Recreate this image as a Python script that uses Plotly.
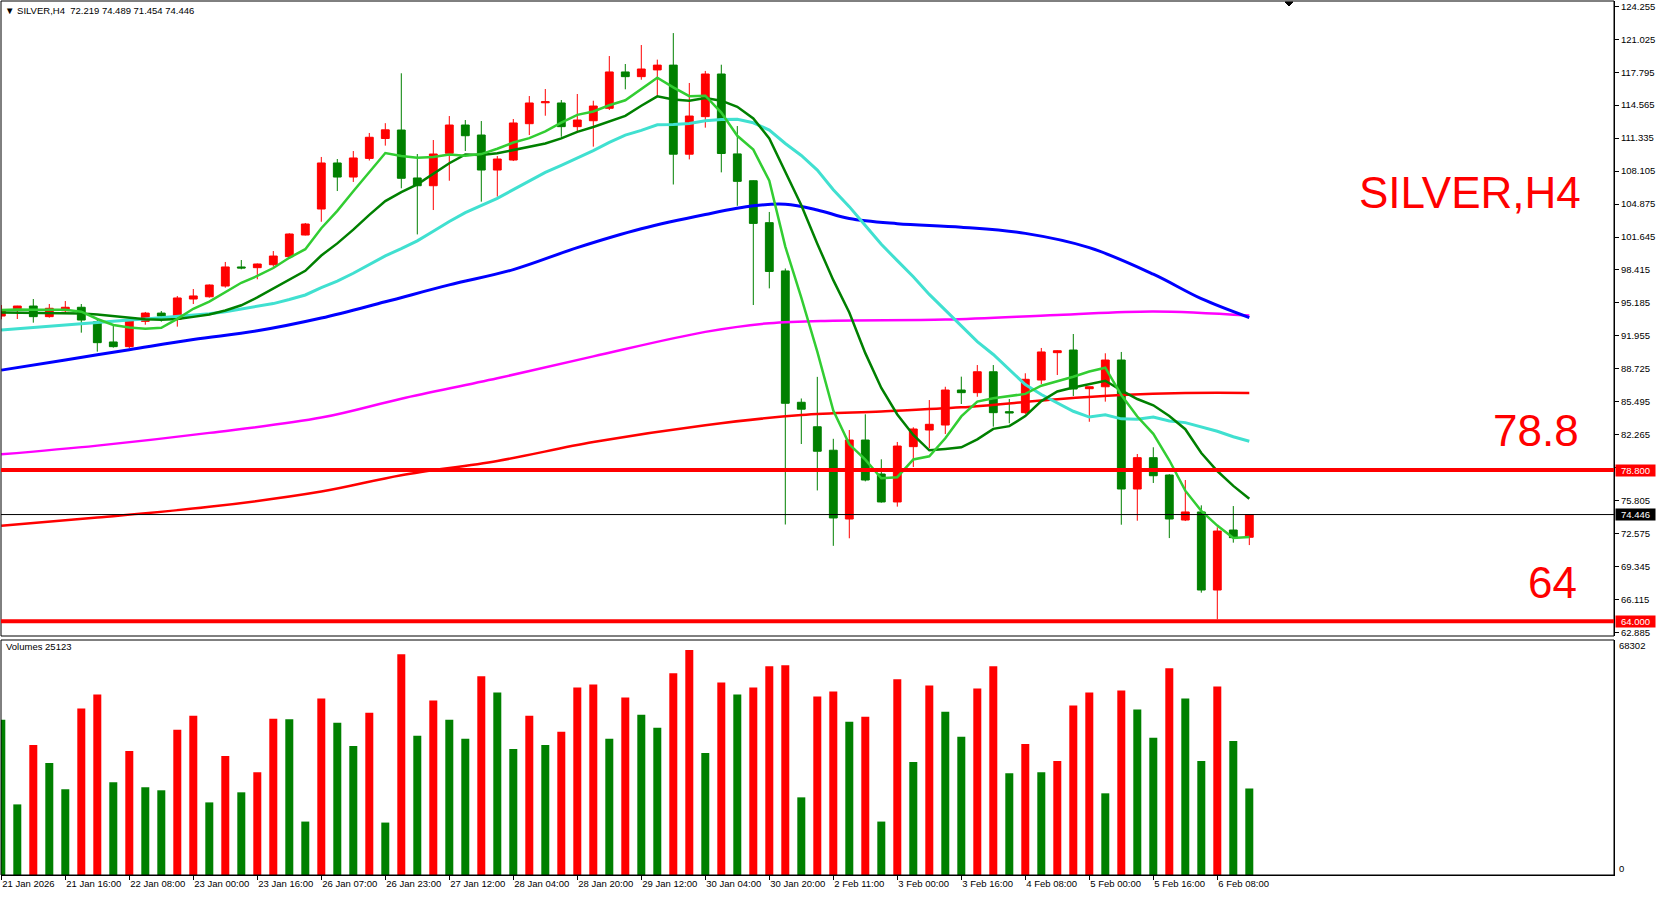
import plotly.graph_objects as go
import pandas as pd

# ---------------- data ----------------
opens = [93.90, 94.62, 94.88, 93.84, 94.42, 94.76, 93.35, 91.36, 90.90, 93.38,
         94.19, 93.58, 95.57, 95.79, 96.84, 98.71, 98.64, 98.93, 99.72, 101.84,
         104.39, 108.90, 107.52, 109.35, 111.30, 112.13, 107.43, 106.67, 109.85, 112.62,
         111.64, 108.21, 109.19, 112.75, 114.80, 114.78, 112.46, 113.04, 114.26, 117.82,
         117.36, 118.02, 118.49, 109.76, 113.44, 117.62, 109.79, 107.16, 103.05, 98.32,
         85.45, 83.05, 80.75, 74.01, 81.75, 78.42, 75.68, 81.10, 82.73, 83.22,
         86.65, 86.39, 88.44, 84.53, 84.43, 87.63, 90.31, 90.57, 86.78, 86.97,
         89.59, 76.95, 80.02, 78.32, 73.91, 74.70, 67.05, 72.93, 72.219]
highs = [94.98, 94.90, 95.57, 95.08, 95.37, 95.08, 93.58, 93.02, 93.58, 94.30,
         94.39, 95.86, 96.55, 97.00, 99.20, 99.39, 99.05, 100.27, 102.01, 103.02,
         109.49, 109.29, 110.07, 111.84, 112.80, 117.69, 109.78, 111.15, 113.50, 113.11,
         113.01, 109.58, 113.21, 115.46, 116.15, 115.07, 115.66, 115.00, 119.38, 118.60,
         120.46, 119.03, 121.63, 116.74, 117.92, 118.53, 112.52, 107.20, 104.10, 98.56,
         85.82, 87.94, 81.87, 82.73, 84.27, 79.86, 81.56, 83.00, 85.67, 86.97,
         87.96, 89.10, 89.10, 85.77, 88.29, 90.77, 90.55, 92.14, 86.97, 90.25,
         90.38, 80.38, 81.04, 78.40, 77.83, 75.35, 73.20, 75.28, 74.489]
lows = [93.58, 93.61, 93.25, 93.74, 94.17, 92.27, 90.41, 90.80, 90.74, 93.05,
        93.35, 92.86, 95.08, 95.70, 96.68, 98.48, 97.50, 98.74, 99.65, 101.80,
        103.14, 106.15, 107.04, 109.14, 110.60, 106.42, 101.90, 104.29, 107.16, 110.07,
        105.11, 105.60, 109.09, 111.64, 113.53, 111.47, 111.97, 110.50, 114.09, 116.12,
        117.06, 115.49, 106.79, 109.25, 112.36, 107.98, 104.70, 94.98, 96.61, 73.47,
        81.36, 76.81, 71.38, 72.12, 77.70, 75.61, 75.22, 79.10, 80.94, 82.34,
        85.28, 85.99, 83.06, 83.39, 84.30, 87.24, 88.12, 86.06, 83.54, 85.51,
        73.45, 73.84, 77.54, 72.14, 73.81, 66.79, 64.18, 71.69, 71.454]
closes = [94.49, 94.88, 93.84, 94.66, 94.76, 93.51, 91.29, 90.90, 93.44, 94.19,
          93.90, 95.67, 95.87, 96.94, 98.71, 98.61, 99.00, 99.78, 101.94, 102.92,
          108.90, 107.52, 109.39, 111.42, 112.15, 107.40, 106.67, 109.78, 112.62, 111.57,
          108.21, 109.29, 112.82, 114.78, 114.90, 112.46, 113.11, 114.48, 117.82, 117.36,
          118.11, 118.49, 109.76, 113.50, 117.62, 109.83, 107.10, 102.98, 98.27, 85.35,
          84.77, 80.65, 74.11, 81.75, 77.83, 75.68, 81.16, 82.83, 83.29, 86.65,
          86.39, 88.44, 84.43, 84.40, 87.70, 90.38, 90.50, 86.75, 86.97, 89.59,
          76.95, 80.02, 78.25, 74.01, 74.70, 67.05, 72.83, 72.18, 74.446]
volumes = [45140, 20520, 37810, 32530, 24910, 48360, 52460, 26970, 36050, 25500,
           24620, 42210, 46310, 21100, 34590, 24030, 29900, 45430, 45300, 15530,
           51290, 44260, 37520, 47190, 15240, 64190, 40450, 50710, 45140, 39570,
           57740, 53050, 36640, 46310, 37810, 41620, 54520, 55400, 39570, 51590,
           46600, 42790, 58620, 65360, 35470, 55980, 52460, 54520, 60670, 60960,
           22570, 51880, 53340, 44550, 46020, 15530, 56860, 32830, 55100, 47480,
           40150, 54220, 60670, 29600, 38100, 29900, 33120, 49240, 53050, 23740,
           53640, 48070, 39860, 60090, 51290, 33120, 54810, 38980, 25123]

tick_bars = [0, 4, 8, 12, 16, 20, 24, 28, 32, 36, 40, 44, 48, 52, 56, 60, 64, 68, 72, 76]
tick_labels = ["21 Jan 2026", "21 Jan 16:00", "22 Jan 08:00", "23 Jan 00:00", "23 Jan 16:00",
               "26 Jan 07:00", "26 Jan 23:00", "27 Jan 12:00", "28 Jan 04:00", "28 Jan 20:00",
               "29 Jan 12:00", "30 Jan 04:00", "30 Jan 20:00", "2 Feb 11:00", "3 Feb 00:00",
               "3 Feb 16:00", "4 Feb 08:00", "5 Feb 00:00", "5 Feb 16:00", "6 Feb 08:00"]
price_ticks = [124.255, 121.025, 117.795, 114.565, 111.335, 108.105, 104.875, 101.645,
               98.415, 95.185, 91.955, 88.725, 85.495, 82.265, 79.035, 75.805, 72.575,
               69.345, 66.115, 62.885]

# moving-average values before the window fills
sma5_head = [94.50, 94.55, 94.52, 94.50]
sma10_head = [94.25, 94.24, 94.22, 94.20, 94.18, 94.15, 94.04, 93.90, 93.76]
sma20_head = [92.53, 92.66, 92.78, 92.88, 93.00, 93.13, 93.25, 93.38, 93.50, 93.61,
              93.72, 93.84, 93.97, 94.12, 94.33, 94.57, 94.83, 95.12, 95.52]

# slow moving averages read at sample bars
ma50_bars = [0, 4, 8, 12, 16, 20, 24, 28, 32, 36, 40, 44, 47, 49, 51, 53, 56, 60, 64, 68, 72, 75, 78]
ma50_vals = [88.6, 89.6, 90.6, 91.6, 92.45, 93.7, 95.3, 96.95, 98.45, 100.6, 102.45, 103.85,
             104.7, 104.85, 104.3, 103.45, 102.95, 102.6, 102.0, 100.6, 98.0, 95.6, 93.75]
ma100_bars = [0, 6, 13, 20, 25, 31, 37, 44, 48, 52, 59, 66, 72, 78]
ma100_vals = [80.35, 81.2, 82.45, 83.95, 85.8, 87.8, 89.95, 92.35, 93.2, 93.45, 93.55, 94.0, 94.35, 93.95]
ma200_bars = [0, 6, 13, 20, 25, 31, 37, 44, 50, 55, 60, 66, 70, 74, 78]
ma200_vals = [73.35, 74.15, 75.2, 76.7, 78.3, 79.7, 81.55, 83.2, 84.2, 84.55, 84.95, 85.75, 86.15, 86.35, 86.36]

level_hi = 78.8
level_lo = 64.0
bid = closes[-1]
vol_max = 68302

# ---------------- derived ----------------
bars = list(range(len(closes)))


def sma(period, head):
    s = pd.Series(closes).rolling(period).mean().tolist()
    s[:period - 1] = head
    return s


sma5 = sma(5, sma5_head)
sma10 = sma(10, sma10_head)
sma20 = sma(20, sma20_head)

RED = "#FF0000"
GREEN = "#008000"
vol_colors = [GREEN] + [RED if volumes[i] > volumes[i - 1] else GREEN for i in range(1, len(volumes))]

# ---------------- layout geometry (pixels) ----------------
W, H = 1656, 898
ML, MR, MT, MB = 1, 42, 1, 23
PW = W - ML - MR
PH = H - MT - MB


def fx(px):
    return (px - ML) / PW


def fy(py):
    return (MT + PH - py) / PH


main_dom = [fy(636), 1.0]
vol_dom = [0.0, fy(640)]
y_top = 124.872 - 0.098 * 1
y_bot = 124.872 - 0.098 * 636
x0 = -0.019
x1 = x0 + PW / 16.0

FONT = "Liberation Sans, Arial, DejaVu Sans, sans-serif"

fig = go.Figure()

fig.add_trace(go.Candlestick(
    x=bars, open=opens, high=highs, low=lows, close=closes,
    increasing=dict(line=dict(color=RED, width=1), fillcolor=RED),
    decreasing=dict(line=dict(color=GREEN, width=1), fillcolor=GREEN),
    whiskerwidth=0, xaxis="x", yaxis="y", showlegend=False, hoverinfo="skip"))

fig.add_trace(go.Scatter(x=ma200_bars, y=ma200_vals, mode="lines", line_shape="spline",
                         line=dict(color=RED, width=2.5), xaxis="x", yaxis="y", showlegend=False))
fig.add_trace(go.Scatter(x=ma100_bars, y=ma100_vals, mode="lines", line_shape="spline",
                         line=dict(color="#FF00FF", width=2.5), xaxis="x", yaxis="y", showlegend=False))
fig.add_trace(go.Scatter(x=ma50_bars, y=ma50_vals, mode="lines", line_shape="spline",
                         line=dict(color="#0000FF", width=3), xaxis="x", yaxis="y", showlegend=False))
fig.add_trace(go.Scatter(x=bars, y=sma20, mode="lines",
                         line=dict(color="#40E0D0", width=3), xaxis="x", yaxis="y", showlegend=False))
fig.add_trace(go.Scatter(x=bars, y=sma10, mode="lines",
                         line=dict(color=GREEN, width=2.5), xaxis="x", yaxis="y", showlegend=False))
fig.add_trace(go.Scatter(x=bars, y=sma5, mode="lines",
                         line=dict(color="#32CD32", width=2.5), xaxis="x", yaxis="y", showlegend=False))

fig.add_trace(go.Bar(x=bars, y=volumes, marker=dict(color=vol_colors, line=dict(width=0)),
                     width=0.5, xaxis="x2", yaxis="y2", showlegend=False, hoverinfo="skip"))

axis_common = dict(showgrid=False, zeroline=False)
fig.update_layout(
    width=W, height=H,
    margin=dict(l=ML, r=MR, t=MT, b=MB),
    paper_bgcolor="white", plot_bgcolor="white",
    showlegend=False, hovermode=False,
    font=dict(family=FONT, size=9.5, color="black"),
    xaxis=dict(domain=[0, 1], range=[x0, x1], anchor="y", showticklabels=False,
               rangeslider=dict(visible=False), ticks="", showline=False, **axis_common),
    xaxis2=dict(domain=[0, 1], range=[x0, x1], anchor="y2", matches="x",
                tickmode="array", tickvals=tick_bars, ticktext=tick_labels,
                ticks="outside", ticklen=4, tickcolor="black", ticklabelposition="outside right",
                tickfont=dict(family=FONT, size=9.5, color="black"),
                showline=True, linecolor="black", linewidth=1, **axis_common),
    yaxis=dict(domain=main_dom, range=[y_bot, y_top], side="right", anchor="x",
               tickmode="array", tickvals=price_ticks, ticktext=[f"{v:.3f}" for v in price_ticks],
               ticks="outside", ticklen=4, tickcolor="black",
               tickfont=dict(family=FONT, size=9.5, color="black"),
               showline=True, linecolor="black", linewidth=1, **axis_common),
    yaxis2=dict(domain=vol_dom, range=[0, vol_max], side="right", anchor="x2",
                showticklabels=False, ticks="", showline=True, linecolor="black", linewidth=1,
                **axis_common),
    boxgap=0.3,
)

shapes = [
    dict(type="rect", xref="paper", yref="paper", x0=0, x1=1, y0=main_dom[0], y1=1,
         line=dict(color="black", width=1), layer="above"),
    dict(type="rect", xref="paper", yref="paper", x0=0, x1=1, y0=0, y1=vol_dom[1],
         line=dict(color="black", width=1), layer="above"),
    dict(type="line", xref="paper", yref="y", x0=0, x1=1, y0=bid, y1=bid,
         line=dict(color="black", width=1)),
    dict(type="line", xref="paper", yref="y", x0=0, x1=1, y0=level_hi, y1=level_hi,
         line=dict(color=RED, width=4)),
    dict(type="line", xref="paper", yref="y", x0=0, x1=1, y0=level_lo, y1=level_lo,
         line=dict(color=RED, width=4)),
    # chart-shift marker at the top edge
    dict(type="path", xref="paper", yref="paper",
         path=f"M {fx(1285)} {fy(2)} L {fx(1293)} {fy(2)} L {fx(1289)} {fy(6)} Z",
         fillcolor="black", line=dict(color="black", width=1)),
]
fig.update_layout(shapes=shapes)

ann = []
# price-axis markers
for val, bg in [(level_hi, RED), (bid, "black"), (level_lo, RED)]:
    ann.append(dict(xref="paper", yref="y", x=1, y=val, xanchor="left", yanchor="middle",
                    xshift=1, text=f"{val:.3f}", showarrow=False, bgcolor=bg,
                    width=39, height=11, borderpad=0, align="center",
                    font=dict(family=FONT, size=9.5, color="white")))
# volume axis labels
ann.append(dict(xref="paper", yref="paper", x=1, y=fy(645), xanchor="left", yanchor="middle",
                xshift=3, text=str(vol_max), showarrow=False,
                font=dict(family=FONT, size=9.5, color="black")))
ann.append(dict(xref="paper", yref="paper", x=1, y=fy(868), xanchor="left", yanchor="middle",
                xshift=3, text="0", showarrow=False,
                font=dict(family=FONT, size=9.5, color="black")))
# header texts
ann.append(dict(xref="paper", yref="paper", x=fx(3), y=fy(11), xanchor="left", yanchor="middle",
                text="▼ SILVER,H4  72.219 74.489 71.454 74.446", showarrow=False,
                font=dict(family=FONT, size=9.5, color="black")))
ann.append(dict(xref="paper", yref="paper", x=fx(4), y=fy(646), xanchor="left", yanchor="middle",
                text="Volumes 25123", showarrow=False,
                font=dict(family=FONT, size=9.5, color="black")))
# big red labels
for txt, rx, cy in [("SILVER,H4", 1583, 193), ("78.8", 1581, 430), ("64", 1579, 582)]:
    ann.append(dict(xref="paper", yref="paper", x=fx(rx), y=fy(cy), xanchor="right", yanchor="middle",
                    text=txt, showarrow=False, font=dict(family=FONT, size=44, color=RED)))
fig.update_layout(annotations=ann)

fig.write_html("out.html", config={"displayModeBar": False},
               post_script="document.body.style.margin='0px';document.body.style.overflow='hidden';")
